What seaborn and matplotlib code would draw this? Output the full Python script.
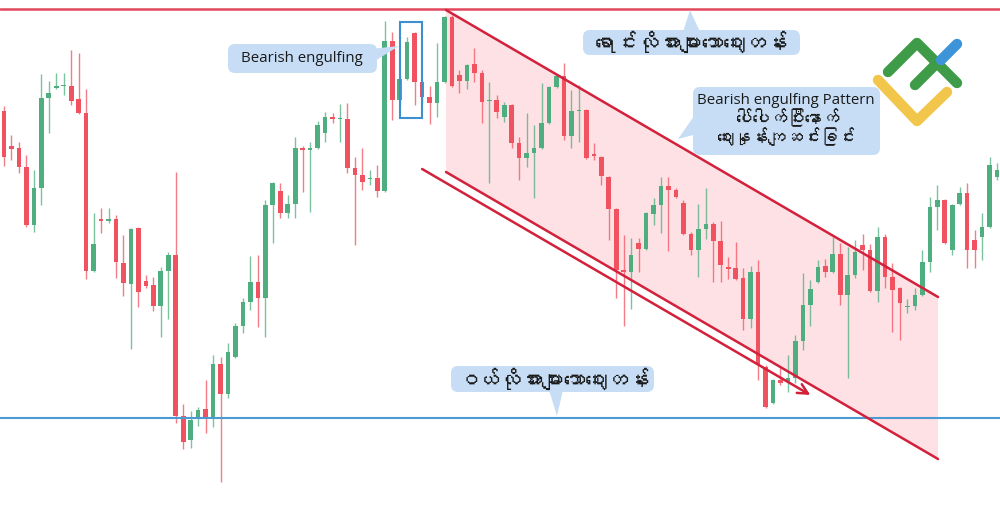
import numpy as np
import pandas as pd
import matplotlib
matplotlib.use("Agg")
import matplotlib.pyplot as plt
import seaborn as sns
import matplotlib.font_manager as fm
from matplotlib.ft2font import FT2Font
from matplotlib.patches import FancyBboxPatch, Polygon, Rectangle

# ---------------- data (price units) ----------------
opens = [389,354,352,333,275,312,402,412,414,414,
         401,387,229,281,279,281,237,216,272,219,
         215,194,229,245,84,60,81,91,82,136,
         106,143,174,198,218,202,295,309,287,296,
         352,350,352,367,383,381,381,332,325,321,
         322,309,459,400,421,467,418,403,397,418,
         483,425,419,436,427,399,400,383,395,357,
         342,347,352,377,413,424,364,389,390,346,
         343,323,291,230,228,257,251,286,295,314,
         310,297,266,250,271,276,259,233,232,222,
         181,228,133,97,120,118,122,159,195,218,
         234,228,246,205,225,255,250,209,263,223,
         212,193,194,205,238,293,300,250,296,307,
         260,263,273,323]
closes = [343,351,333,275,312,402,407,414,415,399,
          387,229,256,279,281,238,217,271,208,214,
          194,229,245,84,58,80,90,82,136,106,
          148,174,198,218,202,295,317,287,296,352,
          350,352,375,383,381,382,332,325,318,322,
          309,459,400,421,458,418,403,397,418,483,
          414,419,435,427,398,400,388,395,357,342,
          347,352,377,413,424,364,389,390,342,344,
          324,291,230,228,245,251,287,295,314,310,
          303,266,250,271,276,259,235,231,221,181,
          228,135,93,120,117,122,159,195,211,233,
          228,246,205,225,248,250,209,263,223,210,
          197,194,205,238,293,300,257,295,307,250,
          250,273,335,330]
highs = [394,365,358,345,330,426,419,427,427,450,
         447,411,287,292,292,285,265,272,273,225,
         223,233,248,328,96,89,93,120,145,143,
         157,177,202,244,245,300,318,317,305,363,
         354,358,379,388,387,396,397,343,352,330,
         335,479,468,425,463,468,420,414,457,484,
         485,430,436,452,430,418,405,398,396,363,
         387,375,417,414,425,437,410,415,391,357,
         344,324,292,265,262,262,288,302,323,323,
         312,300,268,296,312,278,279,243,258,232,
         234,240,135,121,132,145,165,227,220,240,
         241,263,257,253,260,266,256,273,266,237,
         213,201,212,250,303,315,301,296,313,317,
         270,287,343,337]
lows = [334,340,327,273,268,295,367,411,405,395,
        386,221,228,267,277,222,204,151,193,212,
        189,163,181,77,51,52,74,67,73,18,
        102,142,167,190,173,163,257,282,282,282,
        308,288,351,358,377,358,327,255,310,315,
        303,308,380,395,420,395,397,376,383,417,
        413,407,411,418,377,317,382,378,352,320,
        333,302,351,376,412,360,352,358,341,340,
        315,260,202,174,191,228,250,275,267,249,
        302,265,245,223,261,218,218,221,220,170,
        172,120,92,96,115,108,117,150,174,217,
        223,227,195,122,222,230,208,198,212,168,
        160,187,190,204,228,270,256,245,295,232,
        232,240,272,320]

resistance_level = 491
support_level = 82
channel_upper = ([59.2, 125.1], [490, 203])
channel_lower = ([59.2, 125.1], [328, 41])
trend_arrow = ([56.0, 108.0], [331, 105])
engulf_box = (53, 56, 382, 478)   # first idx, last idx, low, high

label_engulf = "Bearish engulfing"
label_resist = "ရောင်းလိုအားများသောဈေးတန်း"
label_support = "ဝယ်လိုအားများသောဈေးတန်း"
label_pattern_en = "Bearish engulfing Pattern"
label_pattern_my = ["ပေါ်ပေါက်ပြီးနောက်", "ဈေးနှုန်းကျဆင်းခြင်း"]

df = pd.DataFrame({"open": opens, "high": highs, "low": lows, "close": closes})
df["idx"] = np.arange(len(df))
df["up"] = df["close"] >= df["open"]

# ---------------- style ----------------
sns.set_theme(style="white")

def find_myanmar_font():
    seen = set()
    for fe in fm.fontManager.ttflist:
        if fe.fname in seen:
            continue
        seen.add(fe.fname)
        try:
            cmap = FT2Font(fe.fname).get_charmap()
        except Exception:
            continue
        if 0x1000 in cmap and 0x103A in cmap and 0x1031 in cmap:
            return fe.name
    return None

mm_font = find_myanmar_font()
families = ["Open Sans"] + ([mm_font] if mm_font else []) + ["DejaVu Sans"]
plt.rcParams["font.family"] = families
my_families = ([mm_font] if mm_font else []) + ["Open Sans", "DejaVu Sans"]

GREEN = "#4fae7f"
RED = "#f0525f"
LINE_RED = "#d3203b"
BOX_BLUE = "#c6ddf5"

fig = plt.figure(figsize=(10, 5.08), dpi=100)
fig.patch.set_facecolor("white")
ax = fig.add_axes([0, 0, 1, 1])
ax.set_xlim(-0.536, 133.4)
ax.set_ylim(-8, 500)
ax.axis("off")

# channel shading
ax.fill([channel_upper[0][0], channel_upper[0][1], channel_lower[0][1], channel_lower[0][0]],
        [channel_upper[1][0], channel_upper[1][1], channel_lower[1][1], channel_lower[1][0]],
        color="#fde1e4", lw=0, zorder=0)

# candles
colors = np.where(df["up"], GREEN, RED)
ax.vlines(df["idx"], df["low"], df["high"], colors=colors, lw=1.0, alpha=0.75, zorder=2)
body_bottom = df[["open", "close"]].min(axis=1)
body_height = (df["close"] - df["open"]).abs().clip(lower=1.5)
ax.bar(df["idx"], body_height, bottom=body_bottom, width=0.62, color=colors, lw=0, zorder=3)

# levels
ax.axhline(resistance_level, color="#e2475c", lw=1.8, zorder=4)
ax.axhline(support_level, color="#4a9bd3", lw=1.5, zorder=4)

# channel lines
ax.plot(*channel_upper, color=LINE_RED, lw=1.8, zorder=4)
ax.plot(*channel_lower, color=LINE_RED, lw=1.8, zorder=4)
ax.annotate("", xy=(trend_arrow[0][1], trend_arrow[1][1]),
            xytext=(trend_arrow[0][0], trend_arrow[1][0]),
            arrowprops=dict(arrowstyle="->,head_length=0.6,head_width=0.3",
                            color=LINE_RED, lw=1.8, shrinkA=0, shrinkB=0), zorder=4)

# engulfing box
ax.add_patch(Rectangle((engulf_box[0], engulf_box[2]), engulf_box[1] - engulf_box[0],
                       engulf_box[3] - engulf_box[2], fill=False, ec="#3d8fd0", lw=1.5, zorder=5))

# ---------------- overlay for callouts and logo (pixel space) ----------------
ov = fig.add_axes([0, 0, 1, 1])
ov.set_xlim(0, 1000)
ov.set_ylim(508, 0)
ov.axis("off")
ov.patch.set_alpha(0)

def box(x0, y0, x1, y1, tri):
    ov.add_patch(FancyBboxPatch((x0, y0), x1 - x0, y1 - y0,
                                boxstyle="round,pad=0,rounding_size=7",
                                fc=BOX_BLUE, ec="none", zorder=6))
    ov.add_patch(Polygon(tri, closed=True, fc=BOX_BLUE, ec="none", zorder=6))

def label(cx, cy, text, size, fam):
    ov.text(cx, cy, text, ha="center", va="center", color="#1a1a1a",
            fontsize=size, family=fam, zorder=7)

box(228, 44, 377, 73, [(370, 49), (370, 64), (399, 46)])
label(302, 59, label_engulf, 10.8, families)

box(583, 30, 800, 55, [(683, 32), (700, 32), (690, 10)])
label(691, 42, label_resist, 15.5, my_families)

box(693, 87, 880, 155, [(678, 139), (697, 112), (697, 134)])
label(786, 100, label_pattern_en, 10.8, families)
label(788, 118, label_pattern_my[0], 12.5, my_families)
label(786, 137, label_pattern_my[1], 12.5, my_families)

box(451, 366, 654, 392, [(549, 390), (563, 390), (557, 416)])
label(553, 379, label_support, 15.5, my_families)

# logo
lw_logo = 7.5
ov.plot([888, 917, 957], [72, 43, 83], color="#3e9b47", lw=lw_logo,
        solid_capstyle="round", solid_joinstyle="round", zorder=6)
ov.plot([915, 936], [85, 64], color="#3e9b47", lw=lw_logo, solid_capstyle="round", zorder=6)
ov.plot([941, 957], [60, 44], color="#3d94d9", lw=lw_logo, solid_capstyle="round", zorder=6)
ov.plot([878, 917, 947], [80, 121, 92], color="#f1c64a", lw=lw_logo,
        solid_capstyle="round", solid_joinstyle="round", zorder=6)

fig.savefig("out.png", dpi=100, facecolor="white")
